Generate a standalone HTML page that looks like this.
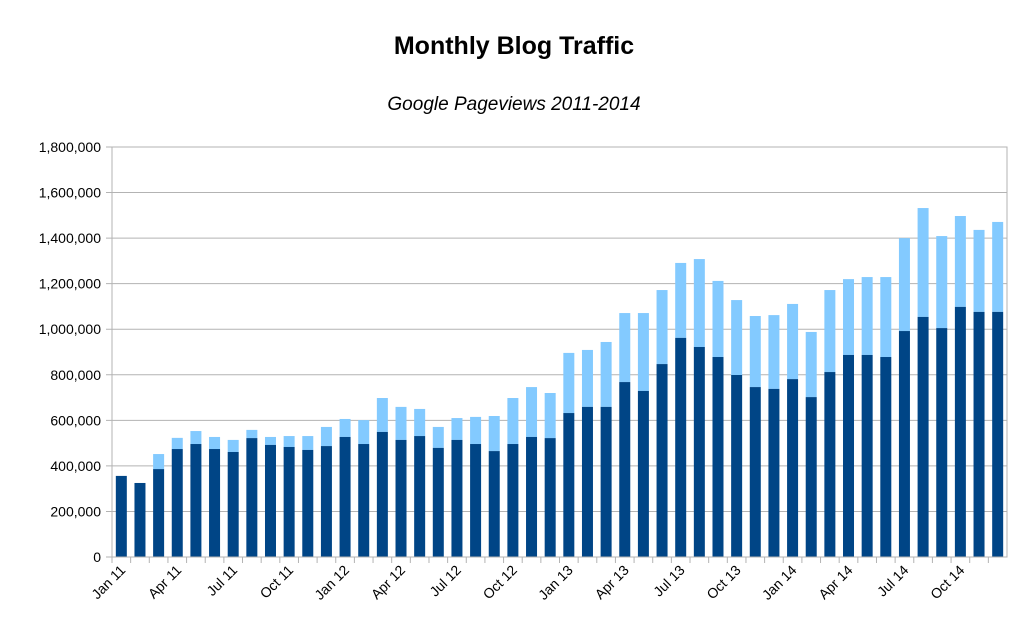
<!DOCTYPE html>
<html><head><meta charset="utf-8"><style>
body{margin:0;background:#fff;font-family:"Liberation Sans",sans-serif}
</style></head><body>
<svg id="chart" width="1030" height="637" xmlns="http://www.w3.org/2000/svg">
<rect width="1030" height="637" fill="#fff"/>
<text x="514" y="54" text-anchor="middle" font-size="25" font-weight="bold" font-family="Liberation Sans">Monthly Blog Traffic</text>
<text x="514" y="110" text-anchor="middle" font-size="19" font-style="italic" font-family="Liberation Sans">Google Pageviews 2011-2014</text>
<g id="grid"></g><g id="bars"></g><g id="axes"></g>
</svg>
<script>
const months=["Jan","Feb","Mar","Apr","May","Jun","Jul","Aug","Sep","Oct","Nov","Dec"];
const categories=[];for(const y of ["11","12","13","14"])for(const m of months)categories.push(m+" "+y);
const darkValues=[356,325,386,474,496,474,461,522,492,483,470,487,527,496,549,514,531,479,514,496,465,496,527,522,632,659,659,768,729,847,962,922,878,799,746,738,781,702,812,887,887,878,992,1054,1005,1098,1076,1076].map(v=>v*1000);
const totalValues=[356,325,452,523,553,527,514,558,527,531,531,571,606,601,698,659,650,571,610,615,619,698,746,720,896,909,944,1071,1071,1172,1291,1308,1212,1128,1058,1062,1111,988,1172,1220,1229,1229,1400,1532,1409,1497,1436,1471].map(v=>v*1000);
const yTicks=[0,200000,400000,600000,800000,1000000,1200000,1400000,1600000,1800000];
const NS="http://www.w3.org/2000/svg";
const L=112,R=1007,T=147,B=557,YMAX=1800000;
const y=v=>B-(v/YMAX)*(B-T);
const step=(R-L)/categories.length;
const x=i=>L+i*step;
function mk(tag,attrs,parent){const e=document.createElementNS(NS,tag);for(const k in attrs)e.setAttribute(k,attrs[k]);parent.appendChild(e);return e;}
const grid=document.getElementById('grid'),bars=document.getElementById('bars'),axes=document.getElementById('axes');
yTicks.forEach(t=>{
 const g=mk('line',{x1:L-6,x2:R,y1:y(t),y2:y(t),stroke:'#b3b3b3','stroke-width':1},grid);
 
 
 const tx=mk('text',{x:L-11,y:y(t)+5,'text-anchor':'end','font-size':14,fill:'#000'},axes);
 tx.textContent=t.toLocaleString('en-US');
 
 
});
const frame=mk('rect',{x:L,y:T,width:R-L,height:B-T,fill:'none',stroke:'#b3b3b3'},axes);


const bw=11;
categories.forEach((c,i)=>{
 const cx=x(i)+step/2;
 const lb=mk('rect',{x:cx-bw/2,y:y(totalValues[i]),width:bw,height:y(darkValues[i])-y(totalValues[i]),fill:'#83caff'},bars);
 
 
 const db=mk('rect',{x:cx-bw/2,y:y(darkValues[i]),width:bw,height:B-y(darkValues[i]),fill:'#004586'},bars);
 
 
 const tk=mk('line',{x1:x(i),x2:x(i),y1:B,y2:B+6,stroke:'#b3b3b3'},axes);
 
 
 if(i%3===0){
  const t=mk('text',{x:cx+5,y:B+14,'text-anchor':'end','font-size':14,transform:`rotate(-45 ${cx+5} ${B+14})`},axes);
  t.textContent=c;
  
  
 }
});
</script>
</body></html>
